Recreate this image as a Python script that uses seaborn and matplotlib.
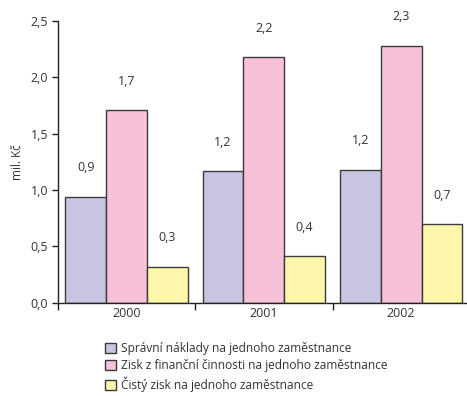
import pandas as pd
import matplotlib
matplotlib.use('Agg')
import matplotlib.pyplot as plt
from matplotlib.ticker import FuncFormatter
import seaborn as sns

# Data (mil. Kč per employee)
years = ['2000', '2001', '2002']
series = ['Správní náklady na jednoho zaměstnance',
          'Zisk z finanční činnosti na jednoho zaměstnance',
          'Čistý zisk na jednoho zaměstnance']
spravni = [0.94, 1.17, 1.18]
zisk_fin = [1.71, 2.18, 2.28]
cisty = [0.32, 0.41, 0.70]
colors = ['#c8c5e3', '#f7c1d9', '#fff6ab']

rows = []
for name, vals in zip(series, [spravni, zisk_fin, cisty]):
    for y, v in zip(years, vals):
        rows.append({'rok': y, 'serie': name, 'hodnota': v})
df = pd.DataFrame(rows)

sns.set_style('white')
plt.rcParams['font.family'] = ['Open Sans', 'DejaVu Sans']

fig = plt.figure(figsize=(4.67, 3.96), dpi=100)
ax = fig.add_axes([0.124, 0.2356, 0.882, 0.712])

sns.barplot(data=df, x='rok', y='hodnota', hue='serie', hue_order=series,
            palette=colors, width=0.89, gap=0, edgecolor='#3a3a3a', linewidth=1,
            saturation=1, ax=ax, legend=True)

# value labels with decimal comma
for cont in ax.containers:
    labels = [f"{b.get_height():.1f}".replace('.', ',') for b in cont]
    ax.bar_label(cont, labels=labels, padding=16, fontsize=9, color='#333333')

ax.set_ylim(0, 2.5)
ax.set_xlim(-0.5, 2.5)
ax.set_yticks([0, 0.5, 1.0, 1.5, 2.0, 2.5])
ax.yaxis.set_major_formatter(FuncFormatter(lambda v, p: f"{v:.1f}".replace('.', ',')))
ax.set_ylabel('mil. Kč', fontsize=8.5, color='#333333', labelpad=5)
ax.set_xlabel('')

# category labels in the middle, tick marks on the boundaries
ax.set_xticks([0, 1, 2])
ax.set_xticklabels(years)
ax.tick_params(axis='x', which='major', length=0, pad=3, labelsize=9, labelcolor='#333333')
ax.set_xticks([-0.5, 0.5, 1.5, 2.5], minor=True)
ax.tick_params(axis='x', which='minor', length=5, width=1, color='#222222', direction='out')
ax.tick_params(axis='y', length=4, width=1, color='#222222', direction='out',
               labelsize=9, labelcolor='#333333', pad=3)
ax.xaxis.set_ticks_position('bottom')
ax.yaxis.set_ticks_position('left')

sns.despine(ax=ax)
for s in ['left', 'bottom']:
    ax.spines[s].set_color('#222222')
    ax.spines[s].set_linewidth(1)

handles, lbls = ax.get_legend_handles_labels()
ax.legend_.remove()
fig.legend(handles, lbls, loc='upper left', bbox_to_anchor=(0.212, 0.152),
           frameon=False, fontsize=8.6, handlelength=0.9, handleheight=0.9,
           handletextpad=0.45, labelspacing=0.38, borderpad=0, labelcolor='#333333')

fig.savefig('out.png', dpi=100)
